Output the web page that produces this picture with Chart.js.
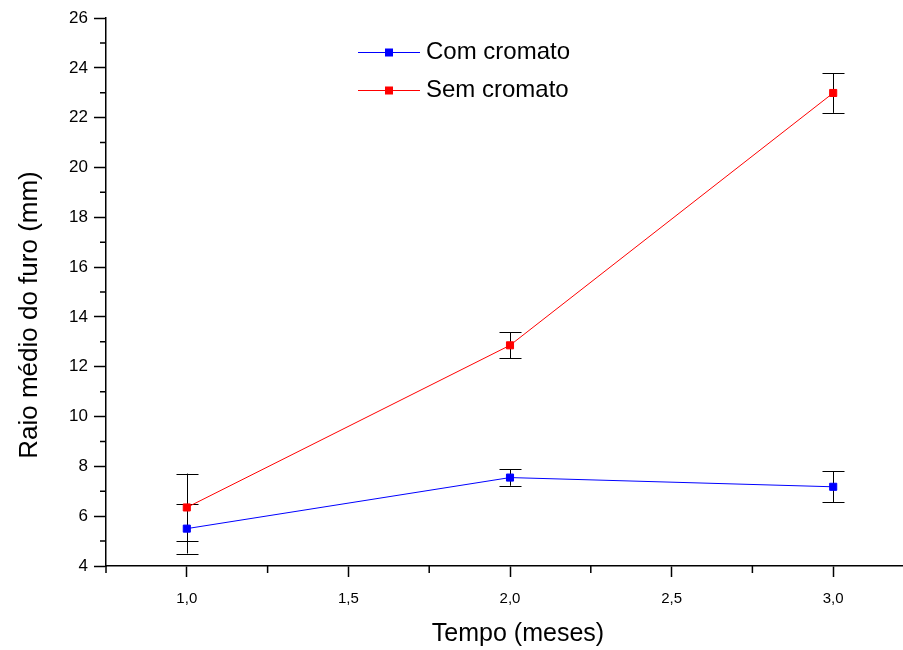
<!DOCTYPE html>
<html>
<head>
<meta charset="utf-8">
<script src="https://cdn.jsdelivr.net/npm/chart.js@4/dist/chart.umd.min.js"></script>
<style>
  html, body { margin: 0; padding: 0; background: #fff; overflow: hidden; }
  #wrap { width: 920px; height: 650px; }
</style>
</head>
<body>
<div id="wrap"><canvas id="chart" width="920" height="650"></canvas></div>
<script>
// data
const months     = [1, 2, 3];
const comMeans   = [5.5, 7.55, 7.18];
const comErr     = [1.0, 0.33, 0.63];
const semMeans   = [6.35, 12.86, 22.99];
const semErr     = [1.36, 0.52, 0.8];
const seriesNames = ['Com cromato', 'Sem cromato'];

const X_MIN = 0.75, X_MAX = 3.25, X_STEP = 0.25;
const Y_MIN = 4, Y_MAX = 26, Y_STEP = 1;

const BLUE = '#0000ff';
const RED  = '#ff0000';
const FONT = "'Liberation Sans', Arial, sans-serif";

const pts = (xs, ys) => xs.map((x, i) => ({ x, y: ys[i] }));
const errs = [comErr, semErr];

const isMajorX = v => Math.abs(v / 0.5 - Math.round(v / 0.5)) < 1e-6;
const isMajorY = v => v % 2 === 0;

// error bars, drawn under the markers
const errorBars = {
  id: 'errorBars',
  beforeDatasetsDraw(chart) {
    const { ctx, scales: { x, y } } = chart;
    ctx.save();
    ctx.strokeStyle = '#000';
    ctx.lineWidth = 1;
    chart.data.datasets.forEach((ds, di) => {
      ds.data.forEach((p, i) => {
        const e = errs[di][i];
        const px = Math.round(x.getPixelForValue(p.x)) + 0.5;
        const top = y.getPixelForValue(p.y + e);
        const bot = y.getPixelForValue(p.y - e);
        ctx.beginPath();
        ctx.moveTo(px, top); ctx.lineTo(px, bot);
        ctx.moveTo(px - 11, Math.round(top) + 0.5); ctx.lineTo(px + 11, Math.round(top) + 0.5);
        ctx.moveTo(px - 11, Math.round(bot) + 0.5); ctx.lineTo(px + 11, Math.round(bot) + 0.5);
        ctx.stroke();
      });
    });
    ctx.restore();
  }
};

// minor ticks, axis titles, legend box
const decorations = {
  id: 'decorations',
  afterDraw(chart) {
    const { ctx, chartArea: a, scales: { x, y } } = chart;
    ctx.save();
    ctx.strokeStyle = '#000';
    ctx.lineWidth = 1.5;
    ctx.beginPath();
    y.ticks.forEach(t => {
      if (isMajorY(t.value)) return;
      const py = y.getPixelForValue(t.value);
      ctx.moveTo(a.left - 6, py); ctx.lineTo(a.left, py);
    });
    x.ticks.forEach(t => {
      if (isMajorX(t.value)) return;
      const px = x.getPixelForValue(t.value);
      ctx.moveTo(px, a.bottom); ctx.lineTo(px, a.bottom + 7);
    });
    ctx.stroke();

    ctx.fillStyle = '#000';
    ctx.textAlign = 'center';
    ctx.textBaseline = 'middle';
    ctx.font = '25px ' + FONT;
    ctx.fillText('Tempo (meses)', 518, 634);

    ctx.save();
    ctx.translate(30, 315);
    ctx.rotate(-Math.PI / 2);
    ctx.font = '26px ' + FONT;
    ctx.fillText('Raio médio do furo (mm)', 0, 0);
    ctx.restore();

    // legend
    chart.data.datasets.forEach((ds, i) => {
      const ly = 52 + 38 * i + 0.5;
      ctx.strokeStyle = ds.borderColor;
      ctx.lineWidth = 1;
      ctx.beginPath();
      ctx.moveTo(358, ly); ctx.lineTo(420, ly);
      ctx.stroke();
      ctx.fillStyle = ds.borderColor;
      ctx.fillRect(385, ly - 4, 8, 8);
      ctx.fillStyle = '#000';
      ctx.textAlign = 'left';
      ctx.font = '24px ' + FONT;
      ctx.fillText(ds.label, 426, ly);
    });
    ctx.restore();
  }
};

const mkSet = (label, color, ys) => ({
  label,
  data: pts(months, ys),
  borderColor: color,
  backgroundColor: color,
  borderWidth: 1,
  pointStyle: 'rect',
  pointRadius: 5,
  pointBorderWidth: 1,
  pointBorderColor: color,
  pointBackgroundColor: color,
  tension: 0,
  fill: false
});

new Chart(document.getElementById('chart'), {
  type: 'line',
  data: {
    datasets: [
      mkSet(seriesNames[0], BLUE, comMeans),
      mkSet(seriesNames[1], RED, semMeans)
    ]
  },
  options: {
    responsive: false,
    animation: false,
    events: [],
    layout: { padding: { top: 18, right: 6, left: 0, bottom: 0 } },
    plugins: { legend: { display: false }, tooltip: { enabled: false } },
    scales: {
      x: {
        type: 'linear',
        min: X_MIN, max: X_MAX,
        border: { color: '#000', width: 1.5 },
        grid: {
          drawOnChartArea: false,
          tickLength: 11,
          tickWidth: 1.5,
          tickColor: c => isMajorX(c.tick.value) ? '#000' : 'rgba(0,0,0,0)'
        },
        ticks: {
          stepSize: X_STEP,
          autoSkip: false,
          maxRotation: 0,
          padding: 13,
          color: '#000',
          font: { family: FONT, size: 15 },
          callback: v => isMajorX(v) && v >= 1 && v <= 3 ? v.toFixed(1).replace('.', ',') : ''
        },
        afterFit: s => { s.height = 84; s.paddingLeft = 0; s.paddingRight = 0; }
      },
      y: {
        min: Y_MIN, max: Y_MAX,
        border: { color: '#000', width: 1.5 },
        grid: {
          drawOnChartArea: false,
          tickLength: 12,
          tickWidth: 1.5,
          tickColor: c => isMajorY(c.tick.value) ? '#000' : 'rgba(0,0,0,0)'
        },
        ticks: {
          stepSize: Y_STEP,
          autoSkip: false,
          padding: 6,
          color: '#000',
          font: { family: FONT, size: 17 },
          callback: v => isMajorY(v) ? String(v) : ''
        },
        afterFit: s => { s.width = 106; s.paddingTop = 0; s.paddingBottom = 0; }
      }
    }
  },
  plugins: [errorBars, decorations]
});
</script>
</body>
</html>
